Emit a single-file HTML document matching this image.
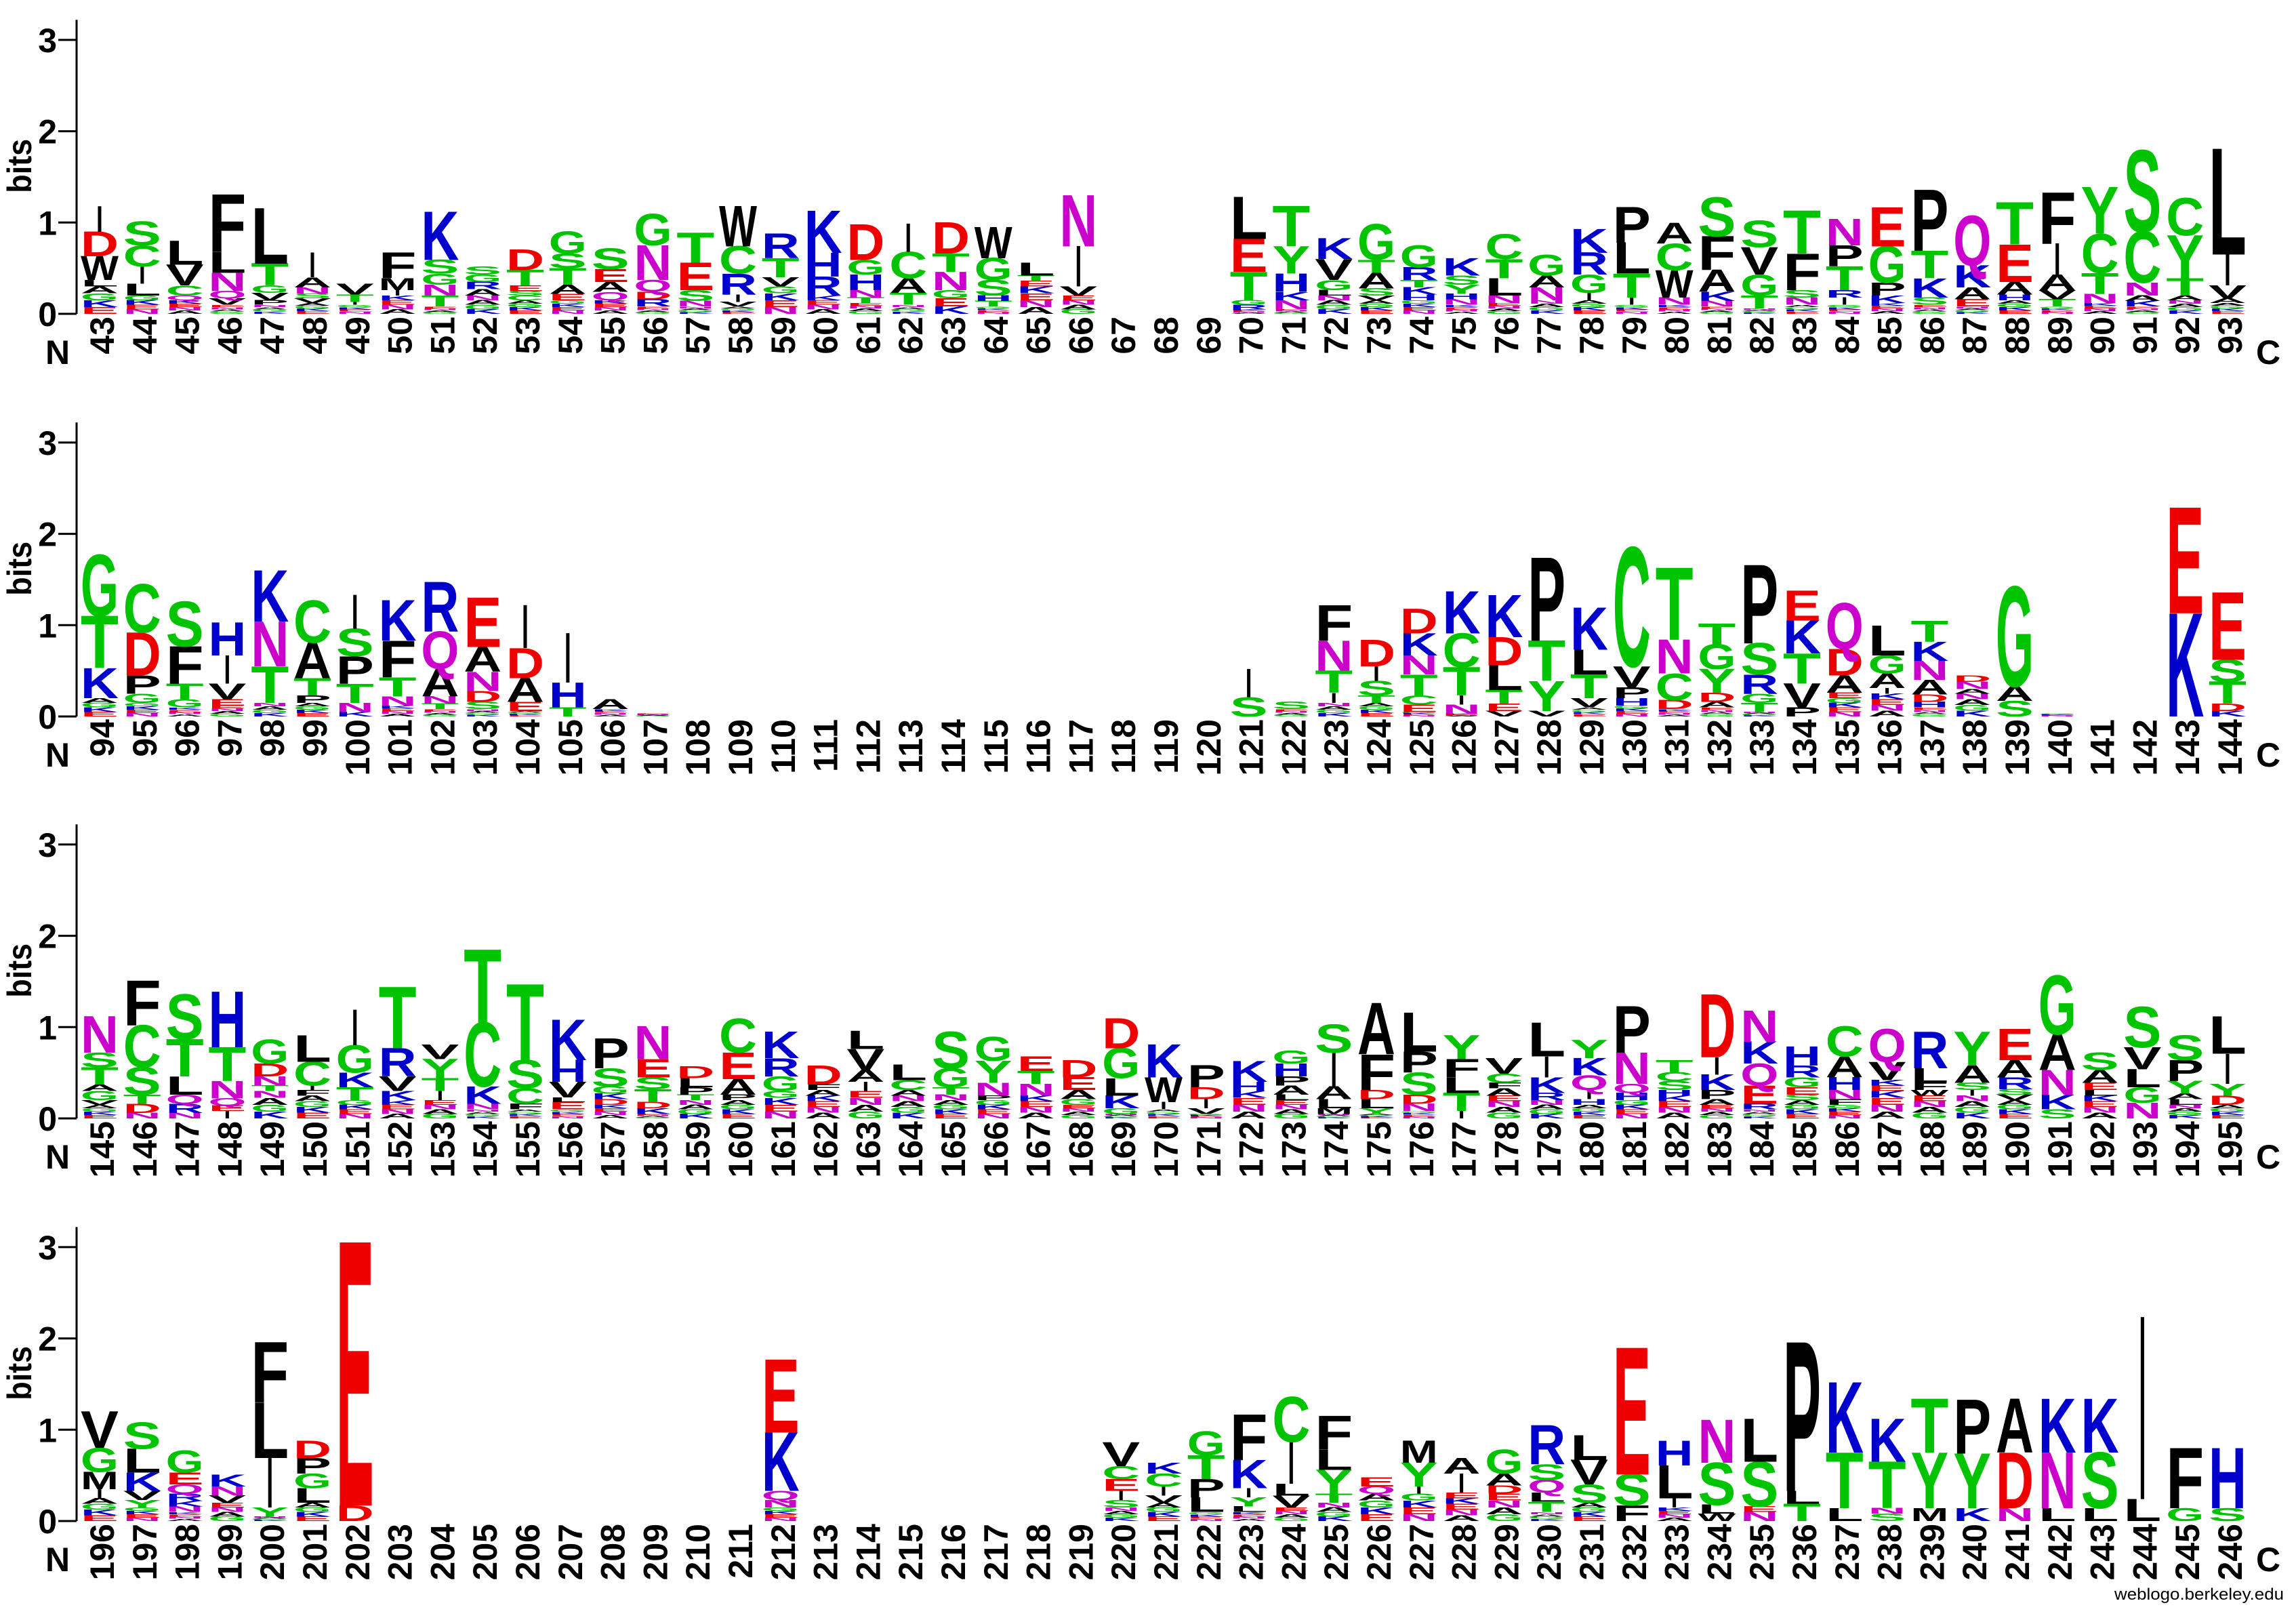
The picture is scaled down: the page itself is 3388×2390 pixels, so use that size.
<!DOCTYPE html>
<html><head><meta charset="utf-8"><style>
html,body{margin:0;padding:0;background:#fff;}
svg{display:block;}
</style></head><body>
<svg id="logo" xmlns="http://www.w3.org/2000/svg" width="3388" height="2390" viewBox="0 0 3388 2390">
<rect width="3388" height="2390" fill="#fff"/>
</svg>
<script>
const rowStarts = [43, 94, 145, 196];
const row1Stacks = ["I.28 D.27 W.26 L.07 ~.3","S.26 C.23 I.19 L.13 ~.2","L.26 V.23 C.11 Q.05 ~.15","F.63 L.23 N.2 Q.08 V.07 ~.1","L.61 T.24 G.08 V.08 P.05 ~.1","I.27 A.11 N.07 S.05 V.05 ~.12","V.12 T.08 I.03 ~.1","F.28 M.13 I.06 ~.2","K.53 S.15 G.12 N.12 T.12 ~.08","S.09 G.08 R.08 A.07 ~.2","D.23 T.17 E.06 S.05 C.05 ~.15","G.24 S.16 T.18 A.1 E.07 ~.15","S.23 E.14 A.11 Q.09 ~.15","G.34 N.38 Q.13 D.08 R.08 ~.08","T.33 E.3 S.12 N.06 ~.08","W.44 C.3 R.23 I.08 V.05 ~.08","R.27 T.21 V.1 ~.3","K.46 H.26 R.21 ~.2","D.39 G.16 H.17 N.08 T.06 ~.12","I.31 C.29 A.16 T.13 ~.1","D.34 T.2 N.2 G.09 E.09 K.08","W.34 G.24 S.17 H.06 T.06 ~.08","L.14 T.06 E.06 ~.3","N.56 I.44 V.1 ~.2","","","","L.46 E.36 T.31 G.05 R.05 ~.05","T.44 Y.3 H.2 K.09 N.1 ~.05","K.23 V.23 G.11 L.06 ~.2","G.39 T.14 A.17 S.08 V.05 ~.15","G.24 R.14 T.08 K.08 H.06 ~.15","K.19 S.1 Y.1 H.06 N.06 ~.1","C.27 T.21 L.19 N.08 ~.12","G.23 A.13 N.14 ~.15","K.26 R.24 G.2 I.08 ~.15","P.39 L.34 T.26 I.08 ~.1","A.23 C.29 W.3 N.08 ~.1","S.43 F.37 A.24 K.1 N.06 ~.08","S.29 V.3 G.23 T.14 ~.06","T.47 F.4 S.08 N.08 ~.1","N.29 P.23 T.26 R.08 I.08 ~.1","E.43 G.4 P.14 K.08 ~.12","P.67 T.3 K.21 S.08 ~.1","Q.54 K.24 A.13 E.08 ~.08","T.46 E.41 A.14 H.06 ~.15","F.56 I.34 A.17 V.1 T.08 ~.08","Y.51 C.43 T.23 N.1 ~.12","S.89 C.56 N.14 A.06 K.06 ~.08","C.41 Y.47 T.19 A.05 ~.15","L1.16 I.34 V.14 A.05 ~.12"];
const row2Stacks = ["G.67 T.57 K.33 ~.2","C.53 D.47 P.2 G.1 ~.15","S.49 F.41 T.17 G.09 ~.1","H.36 I.31 V.17 E.07 ~.12","K.56 N.49 T.4 ~.15","C.46 A.39 T.19 P.08 ~.15","I.37 S.3 P.3 T.21 N.1 K.05","K.44 F.4 T.21 N.1 ~.12","R.54 Q.41 A.3 N.08 T.06 ~.08","E.54 A.27 N.21 D.12 S.08 ~.08","I.47 D.33 A.26 E.1 ~.06","I.54 H.27 T.1","A.11 ~.08","~.03","","","","","","","","","","","","","","I.31 S.21","S.08 ~.08","F.39 N.33 T.24 I.11 ~.15","D.29 I.16 S.16 T.08 ~.15","D.27 K.24 N.21 T.23 C.1 E.08 ~.05","K.46 C.37 T.31 I.1 N.1 ~.03","K.46 D.31 L.27 T.15 E.08 V.06","P.91 T.44 Y.33 V.06","K.46 L.27 T.26 V.1 ~.1","C1.3 V.23 P.12 H.08 ~.12","T.79 N.37 C.29 D.1 ~.08","T.23 G.27 Y.26 D.1 A.06 ~.1","P.86 S.34 R.21 G.1 T.1 ~.05","E.33 K.36 T.33 V.26 P.1","Q.5 D.29 A.19 E.06 ~.2","L.33 G.2 A.16 I.06 ~.25","T.23 K.21 N.21 A.16 D.08 H.06 ~.1","D.07 N.08 A.05 ~.25","G1.09 A.16 S.17","~.03","","","E1.16 K1.13","E.74 S.24 T.24 D.08 K.06"];
const row3Stacks = ["N.4 S.16 T.19 A.07 G.1 V.05 ~.15","F.49 C.46 S.3 T.1 D.1 N.06","S.49 T.41 L.2 Q.1 R.1 N.06","H.61 T.37 N.19 Q.08 E.06 I.08","G.26 D.14 N.1 T.06 ~.3","L.29 C.26 I.05 F.06 ~.25","I.39 G.3 K.16 T.14 ~.2","T.67 R.31 V.16 K.1 ~.2","V.16 Y.21 T.14 I.1 ~.2","T.8 C.7 K.19 N.06 ~.1","T.83 S.31 C.17 F.06 ~.1","K.44 H.24 V.17 L.05 E.08 ~.1","P.33 S.2 G.08 K.06 D.06 ~.15","N.36 E.2 S.13 T.14 D.07 K.06 ~.05","D.13 L.1 P.08 T.06 ~.2","C.37 E.29 A.17 P.06 ~.2","K.29 R.2 G.16 ~.3","D.21 F.06 A.06 ~.25","L.2 V.23 A.13 I.1 ~.3","L.17 C.11 A.06 ~.25","S.4 G.21 T.08 N.06 ~.2","G.26 Y.24 N.14 P.05 ~.2","E.16 T.14 N.13 ~.25","D.19 E.14 A.1 G.06 ~.15","D.33 G.33 L.19 K.14 G.06 ~.05","K.36 W.27 I.08 ~.1","P.24 D.13 I.1 V.06 ~.05","K.23 H.1 ~.3","G.14 H.14 P.1 A.1 L.06 ~.2","S.31 I.37 A.14 L.1 M.06 ~.05","A.56 F.39 D.1 L.1 Y.06 ~.05","L.43 P.23 S.24 D.1 N.08 ~.08","Y.26 F.2 L.17 T.2 I.08","V.17 C.1 F.06 A.08 ~.25","L.37 I.23 K.17 R.08 ~.2","Y.2 K.19 Q.16 I.1 H.06 ~.15","P.51 N.34 Q.1 H.08 ~.2","T.13 C.1 S.1 H.06 ~.25","D.69 I.19 K.17 P.1 A.06 ~.15","N.34 K.24 Q.24 E.2 R.06 ~.1","H.21 R.13 G.11 E.08 S.06 ~.2","C.33 A.23 H.14 N.1 F.06 ~.15","Q.36 V.2 K.06 E.06 ~.3","R.4 L.16 F.08 W.06 ~.25","Y.37 A.19 S.08 I.06 ~.25","E.34 A.19 R.13 S.06 V.06 ~.2","G.64 A.39 N.27 K.16 S.1","S.19 A.14 E.08 L.06 ~.25","S.44 V.24 L.2 G.17 N.17","S.27 P.23 Y.14 A.06 L.06 ~.15","L.41 I.33 Y.13 D.1 ~.15"];
const row4Stacks = ["V.4 G.26 M.19 I.1 ~.25","S.29 L.26 K.2 V.1 Y.08 ~.15","G.24 E.13 Q.1 R.08 K.06 N.06 ~.1","K.13 N.1 V.08 ~.2","F.66 L.61 I.54 Y.1 ~.05","D.19 P.17 G.16 L.16 ~.2","E2.89 D.17","","","","","","","","","","E.8 K.64 Q.1 N.08 ~.15","","","","","","","","V.26 C.14 E.13 I.1 S.08 ~.15","K.12 C.14 I.1 V.08 ~.2","G.26 T.26 P.2 L.16 ~.1","F.5 K.31 I.1 Y.1 L.06 ~.1","C.49 I.46 L.13 V.13 ~.15","F.37 L.22 Y.26 T.1 ~.2","E.1 Q.08 ~.3","M.24 Y.26 I.08 ~.3","A.17 I.21 E.06 ~.25","G.26 A.13 D.09 ~.3","R.43 S.17 Q.14 L.1 T.11 ~.1","L.27 V.27 S.2 ~.2","E1.39 S.34 F.17","H.27 L.36 I.1 ~.15","N.47 S.46 L.1 W.08","L.47 S.49 E.06 N.1","P1.63 L.14 T.19","K.77 T.61 L.14","K.47 T.51 N.06 S.08","T.59 Y.61 M.14","P.59 Y.6 K.14","A.59 D.61 N.14","K.59 N.61 L.14","K.59 S.61 L.14","I2.0 L.24","F.66 G.14","H.66 S.14"];
const allRows = [row1Stacks, row2Stacks, row3Stacks, row4Stacks];
const yTicks = [0, 1, 2, 3];
const fillerLetters = ["A","G","K","E","N"];

const NS = "http://www.w3.org/2000/svg";
const svg = document.getElementById("logo");
const zeroY = [463, 1057, 1650, 2244];
const bitPx = 134.7;
const x0 = 147, step = 62.8, letterW = 56, capH = 69;
const colorOf = function(c){
  if ("GSTYC".indexOf(c) >= 0) return "#00c400";
  if ("KRH".indexOf(c) >= 0) return "#0000cc";
  if ("DE".indexOf(c) >= 0) return "#ee0000";
  if ("NQ".indexOf(c) >= 0) return "#cc00cc";
  return "#000000";
};
const yScale = function(r, bits){ return zeroY[r] - bits * bitPx; };
const xCenter = function(i){ return x0 + i * step; };

function mk(tag, attrs){
  const e = document.createElementNS(NS, tag);
  for (const k in attrs) e.setAttribute(k, attrs[k]);
  return e;
}

allRows.forEach(function(stacks, r){
  const g = mk("g", {});
  
  
  svg.appendChild(g);
  const z = zeroY[r];
  // axis line
  const ax = mk("line", {x1:113, x2:113, y1:yScale(r, 3.22), y2:z, stroke:"#000", "stroke-width":3});
  
  
  g.appendChild(ax);
  yTicks.forEach(function(t){
    const y = yScale(r, t);
    const tk = mk("line", {x1:86, x2:113, y1:y, y2:y, stroke:"#000", "stroke-width":3});
    
    
    g.appendChild(tk);
    const tl = mk("text", {x:84, y:y + 18, "text-anchor":"end", "font-family":"Liberation Sans, sans-serif", "font-weight":"bold", "font-size":50});
    tl.textContent = String(t);
    
    
    g.appendChild(tl);
  });
  const bits = mk("text", {transform:"translate(46," + yScale(r, 1.62) + ") rotate(-90)", "text-anchor":"middle", "font-family":"Liberation Sans, sans-serif", "font-weight":"bold", "font-size":50, textLength:80, lengthAdjust:"spacingAndGlyphs"});
  bits.textContent = "bits";
  
  
  g.appendChild(bits);
  const nl = mk("text", {x:85, y:z + 74, "text-anchor":"middle", "font-family":"Liberation Sans, sans-serif", "font-weight":"bold", "font-size":50});
  nl.textContent = "N";
  
  
  g.appendChild(nl);
  const cl = mk("text", {x:3347, y:z + 74, "text-anchor":"middle", "font-family":"Liberation Sans, sans-serif", "font-weight":"bold", "font-size":50});
  cl.textContent = "C";
  
  
  g.appendChild(cl);

  stacks.forEach(function(s, i){
    const cx = xCenter(i);
    const pos = rowStarts[r] + i;
    const lab = mk("text", {transform:"translate(" + (cx + 4) + "," + (z + 4) + ") rotate(-90)", "text-anchor":"end", "dominant-baseline":"central", "font-family":"Liberation Sans, sans-serif", "font-weight":"bold", "font-size":50});
    lab.textContent = String(pos);
    
    
    g.appendChild(lab);
    if (!s) return;
    let items = [];
    s.split(" ").forEach(function(tok){
      const c = tok[0], h = parseFloat(tok.slice(1));
      if (c === "~") {
        for (let k = 0; k < 4; k++) items.push([fillerLetters[(i + k) % 5], h / 4]);
      } else items.push([c, h]);
    });
    let acc = 0;
    for (let k = items.length - 1; k >= 0; k--) {
      const c = items[k][0], h = items[k][1];
      const yb = yScale(r, acc);
      const hp = h * bitPx;
      acc += h;
      if (hp < 0.5) continue;
      const sy = hp / capH;
      let t;
      if (c === "I") {
        t = mk("text", {transform:"translate(" + cx + "," + yb + ") scale(0.35," + sy + ")", x:0, y:0, "text-anchor":"middle", fill:colorOf(c), "font-family":"Liberation Sans, sans-serif", "font-weight":"bold", "font-size":100});
      } else {
        t = mk("text", {transform:"translate(" + (cx - letterW / 2) + "," + yb + ") scale(1," + sy + ")", x:0, y:0, textLength:letterW, lengthAdjust:"spacingAndGlyphs", fill:colorOf(c), "font-family":"Liberation Sans, sans-serif", "font-weight":"bold", "font-size":100});
      }
      t.textContent = c;
      
      
      g.appendChild(t);
    }
  });
});
const wm = mk("text", {x:3370, y:2360, "text-anchor":"end", "font-family":"Liberation Sans, sans-serif", "font-size":24, textLength:250, lengthAdjust:"spacingAndGlyphs", fill:"#000"});
wm.textContent = "weblogo.berkeley.edu";


svg.appendChild(wm);
</script>
</body></html>
